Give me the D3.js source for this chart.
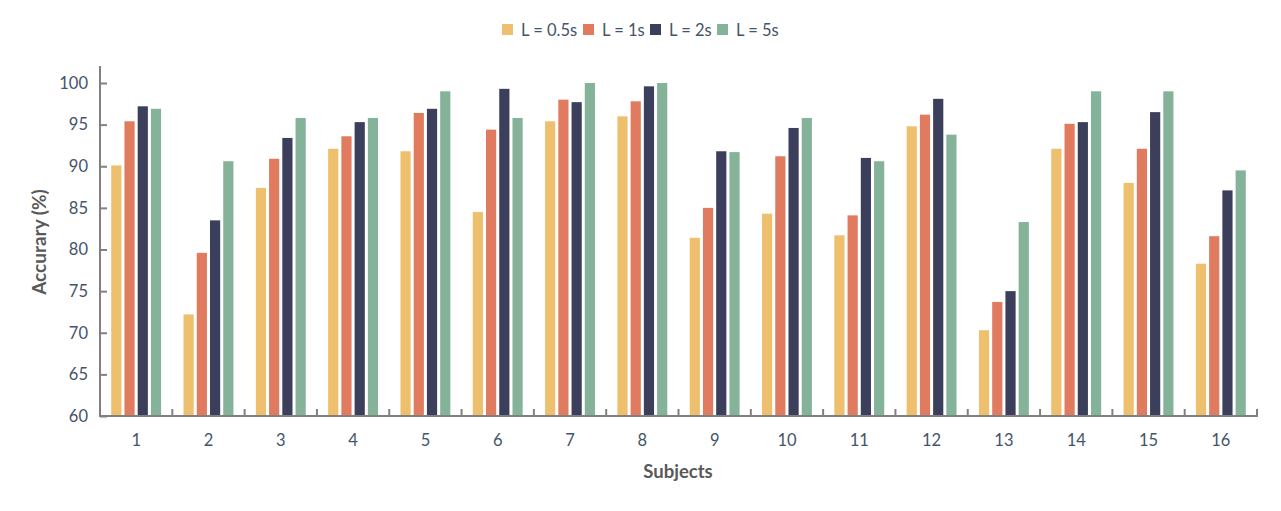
<!DOCTYPE html>
<html><head><meta charset="utf-8">
<script src="https://cdn.jsdelivr.net/npm/d3@7"></script>
<style>body{margin:0;background:#fff;} text{font-family:Lato,"Open Sans",sans-serif;}</style>
</head><body><svg id="c" width="1281" height="511"></svg>
<script>
const subjects = ["1","2","3","4","5","6","7","8","9","10","11","12","13","14","15","16"];
const seriesNames = ["L = 0.5s","L = 1s","L = 2s","L = 5s"];
const l05 = [90.1,72.2,87.4,92.1,91.8,84.5,95.4,96.0,81.4,84.3,81.7,94.8,70.3,92.1,88.0,78.3];
const l1  = [95.4,79.6,90.9,93.6,96.4,94.4,98.0,97.8,85.0,91.2,84.1,96.2,73.7,95.1,92.1,81.6];
const l2  = [97.2,83.5,93.4,95.3,96.9,99.3,97.7,99.6,91.8,94.6,91.0,98.1,75.0,95.3,96.5,87.1];
const l5  = [96.9,90.6,95.8,95.8,99.0,95.8,100.0,100.0,91.7,95.8,90.6,93.8,83.3,99.0,99.0,89.5];
const yTicks = [60,65,70,75,80,85,90,95,100];
const colors = ["#EEBF6D","#E07B5F","#3C3F5B","#84B39A"];
const series = [l05,l1,l2,l5];

const svg = d3.select("#c");
const mLeft=100,mRight=1257,mTop=66,mBottom=416;
const x0 = d3.scaleBand().domain(subjects).range([mLeft,mRight]).padding(0);
const groupW = x0.bandwidth()*0.69;
const x1 = d3.scaleBand().domain(d3.range(4)).range([0,groupW]).paddingInner(0.23);
const y = d3.scaleLinear().domain([60,100]).range([mBottom,83]);

const g = svg.append("g");
subjects.forEach((s,i)=>{
  const gx = x0(s)+(x0.bandwidth()-groupW)/2;
  series.forEach((arr,k)=>{
    g.append("rect").attr("x",gx+x1(k)).attr("width",x1.bandwidth())
     .attr("y",y(arr[i])).attr("height",mBottom-y(arr[i])).attr("fill",colors[k]);
  });
});

// y axis
const ya = svg.append("g").attr("transform",`translate(${mLeft},0)`)
  .call(d3.axisRight(y).tickValues(yTicks).tickSize(7).tickFormat(d3.format("d")));
ya.select(".domain").remove();
ya.selectAll(".tick line").attr("stroke","#808080").attr("stroke-width",2);
ya.selectAll(".tick text").attr("x",-12).attr("text-anchor","end").attr("fill","#44546A").style("font-size","16.5px");
svg.append("line").attr("x1",mLeft).attr("x2",mLeft).attr("y1",mTop).attr("y2",mBottom+1).attr("stroke","#808080").attr("stroke-width",2);

// x axis
const xa = svg.append("g").attr("transform",`translate(0,${mBottom})`)
  .call(d3.axisBottom(x0).tickSize(0));
xa.select(".domain").remove();
xa.selectAll(".tick text").attr("y",18).attr("fill","#44546A").style("font-size","16.5px");
const bounds = subjects.map(s=>x0(s)+x0.bandwidth());
svg.append("g").selectAll("line").data(bounds).join("line")
  .attr("x1",d=>d).attr("x2",d=>d).attr("y1",mBottom).attr("y2",mBottom-7)
  .attr("stroke","#808080").attr("stroke-width",2);
svg.append("line").attr("x1",mLeft-1).attr("x2",mRight+1).attr("y1",mBottom).attr("y2",mBottom).attr("stroke","#808080").attr("stroke-width",2);

// titles
svg.append("text").attr("x",678).attr("y",478).attr("text-anchor","middle")
  .attr("fill","#595959").style("font-size","18.5px").style("font-weight","bold").text("Subjects");
svg.append("text").attr("transform",`translate(46,242) rotate(-90)`).attr("text-anchor","middle")
  .attr("fill","#595959").style("font-size","19px").style("font-weight","bold").text("Accurary (%)");

// legend
const legX = [502,583,650,717];
const leg = svg.append("g");
seriesNames.forEach((n,k)=>{
  leg.append("rect").attr("x",legX[k]).attr("y",24).attr("width",11).attr("height",11).attr("fill",colors[k]);
  leg.append("text").attr("x",legX[k]+19).attr("y",35.5).attr("fill","#44546A").style("font-size","16.5px").text(n);
});
</script></body></html>
